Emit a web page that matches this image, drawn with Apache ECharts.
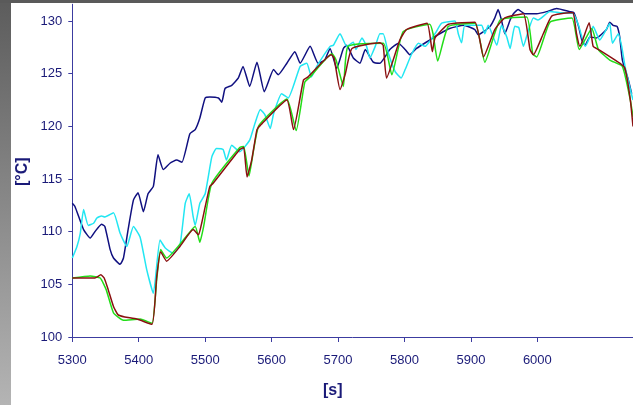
<!DOCTYPE html>
<html>
<head>
<meta charset="utf-8">
<script src="https://cdn.jsdelivr.net/npm/echarts@6/dist/echarts.min.js"></script>
<style>
html, body { margin: 0; padding: 0; background: #ffffff; }
#chart { width: 633px; height: 405px; }
</style>
</head>
<body>
<div id="chart"></div>
<script>
// time axis ticks and temperature ticks
var xTicks = [5300, 5400, 5500, 5600, 5700, 5800, 5900, 6000];
var yTicks = [100, 105, 110, 115, 120, 125, 130];

// navy series
var navyT = [5300, 5304, 5317, 5327, 5334, 5344, 5349, 5357, 5362, 5372, 5377, 5384, 5392, 5399, 5407, 5414, 5422, 5429, 5437, 5447,
	5457, 5465, 5477, 5485, 5492, 5500, 5507, 5520, 5525, 5530, 5540, 5550, 5557, 5567, 5578, 5589, 5603, 5610, 5623, 5635,
	5643, 5658, 5670, 5680, 5688, 5698, 5708, 5713, 5723, 5733, 5741, 5753, 5763, 5778, 5791, 5801, 5808, 5818, 5838, 5853,
	5868, 5889, 5906, 5911, 5919, 5929, 5936, 5941, 5946, 5951, 5959, 5964, 5971, 5981, 5999, 6014, 6029, 6049, 6055, 6062,
	6067, 6072, 6079, 6089, 6104, 6109, 6114, 6120, 6124, 6128, 6137, 6142];
var navyV = [112.7, 112.4, 110.2, 109.4, 110.0, 110.7, 110.5, 108.3, 107.5, 106.9, 107.5, 110.2, 113.0, 113.7, 111.9, 113.6, 114.3, 117.3, 115.9, 116.5,
	116.8, 116.6, 119.3, 119.7, 120.8, 122.7, 122.8, 122.7, 122.3, 123.6, 123.9, 124.6, 125.7, 123.8, 126.1, 123.3, 125.4, 124.9, 126.0, 127.1,
	126.0, 127.6, 126.0, 126.3, 127.4, 125.5, 127.4, 127.7, 126.5, 126.0, 127.3, 126.1, 126.0, 127.3, 127.9, 127.3, 126.8, 127.4, 128.2, 128.8,
	129.3, 129.6, 129.2, 128.7, 129.0, 129.5, 130.3, 131.1, 130.1, 128.8, 130.1, 130.7, 131.1, 130.7, 130.7, 130.9, 131.2, 130.9, 130.8, 129.5,
	128.2, 127.7, 128.5, 128.4, 129.2, 129.9, 129.6, 129.5, 128.5, 126.3, 124.4, 123.1];

// cyan series
var cyanT = [5300, 5307, 5312, 5317, 5324, 5332, 5337, 5344, 5349, 5362, 5372, 5382, 5392, 5402, 5412, 5422, 5432, 5440, 5452, 5462,
	5470, 5476, 5482, 5485, 5492, 5500, 5510, 5517, 5527, 5532, 5540, 5552, 5567, 5575, 5583, 5590, 5598, 5603, 5615, 5625,
	5643, 5653, 5660, 5668, 5688, 5693, 5703, 5713, 5723, 5727, 5736, 5743, 5748, 5756, 5763, 5768, 5776, 5786, 5795, 5801,
	5811, 5821, 5831, 5846, 5856, 5876, 5881, 5886, 5891, 5916, 5921, 5926, 5939, 5946, 5954, 5959, 5966, 5972, 5979, 5986,
	5994, 6001, 6019, 6034, 6054, 6062, 6067, 6072, 6079, 6084, 6094, 6102, 6109, 6113, 6122, 6127, 6132, 6140, 6144];
var cyanV = [107.5, 108.6, 109.85, 112.1, 110.6, 110.8, 111.3, 111.5, 111.4, 111.8, 109.85, 108.6, 110.5, 109.5, 106.4, 104.15, 109.2, 108.45, 107.95, 108.7,
	112.7, 113.6, 111.4, 110.6, 112.7, 113.6, 117.1, 117.9, 117.8, 116.8, 118.2, 117.6, 118.7, 120.3, 121.6, 121.1, 119.8, 121.2, 123.1, 122.7,
	125.7, 126.0, 124.7, 125.7, 127.6, 127.7, 128.8, 127.6, 128.0, 127.3, 128.4, 127.6, 126.5, 127.6, 128.8, 128.8, 126.9, 125.2, 124.6, 125.4,
	126.9, 127.9, 127.6, 128.8, 129.8, 130.0, 128.8, 127.95, 129.6, 129.6, 128.8, 129.6, 127.7, 129.6, 128.5, 127.4, 129.5, 129.4, 127.6, 129.0,
	130.3, 130.1, 130.9, 130.8, 130.7, 129.6, 128.5, 127.6, 128.5, 129.5, 128.2, 129.0, 129.8, 127.9, 128.8, 127.6, 125.7, 123.5, 122.5];

// green series
var greenT = [5300, 5327, 5342, 5351, 5362, 5377, 5402, 5420, 5427, 5433, 5442, 5462, 5485, 5492, 5498, 5510, 5552, 5558, 5566, 5573,
	5581, 5623, 5637, 5650, 5658, 5691, 5697, 5708, 5715, 5768, 5781, 5798, 5838, 5843, 5850, 5866, 5906, 5921, 5944, 5984,
	5993, 5999, 6019, 6052, 6063, 6082, 6092, 6109, 6128, 6140, 6144];
var greenV = [105.6, 105.8, 105.6, 104.5, 102.3, 101.6, 101.7, 101.3, 105.4, 108.3, 107.5, 108.8, 110.5, 109.0, 110.6, 114.6, 118.0, 118.1, 115.3, 117.8,
	120.1, 122.6, 119.6, 124.2, 124.7, 126.9, 126.3, 123.8, 127.6, 127.9, 124.9, 129.0, 129.7, 128.8, 126.2, 129.5, 129.8, 126.1, 130.1, 130.4,
	126.9, 126.6, 129.9, 130.3, 127.3, 129.3, 127.3, 126.3, 125.7, 122.5, 120.9];

// dark red series
var redT = [5300, 5334, 5343, 5348, 5354, 5362, 5369, 5379, 5397, 5420, 5427, 5433, 5442, 5462, 5482, 5490, 5494, 5507, 5512, 5552,
	5558, 5563, 5570, 5578, 5583, 5623, 5633, 5648, 5655, 5690, 5694, 5703, 5711, 5721, 5763, 5768, 5773, 5793, 5803, 5834,
	5842, 5846, 5866, 5906, 5919, 5936, 5951, 5979, 5989, 5994, 6009, 6022, 6049, 6054, 6059, 6064, 6078, 6084, 6092, 6124,
	6132, 6140, 6144];
var redV = [105.6, 105.6, 105.9, 105.6, 104.5, 102.9, 102.1, 101.9, 101.7, 101.2, 105.7, 108.1, 107.2, 108.6, 110.2, 109.7, 110.6, 114.3, 114.6, 117.8,
	118.0, 115.2, 116.8, 119.7, 120.1, 122.5, 119.7, 124.4, 124.7, 126.8, 126.5, 123.5, 125.0, 127.4, 127.95, 127.7, 124.6, 128.2, 129.2, 129.8,
	127.1, 128.4, 129.7, 129.9, 126.6, 129.2, 130.3, 130.7, 127.3, 126.8, 128.8, 130.5, 130.8, 130.8, 128.8, 127.6, 129.85, 127.6, 127.3, 126.0,
	125.5, 122.5, 120.0];

function pairs(t, v) {
	var out = [];
	for (var i = 0; i < t.length; i++) {
		out.push([t[i], v[i]]);
	}
	return out;
}

function line(name, color, t, v) {
	return {
		name: name,
		type: 'line',
		data: pairs(t, v),
		showSymbol: false,
		smooth: 0.15,
		lineStyle: { color: color, width: 1.5 },
		itemStyle: { color: color }
	};
}

var axisColor = '#3c3ca0';
var textColor = '#1a1a78';
var labelFont = '"Liberation Sans", Arial, sans-serif';

var chart = echarts.init(document.getElementById('chart'));
var option = {
	animation: false,
	backgroundColor: '#ffffff',
	grid: { left: 72.3, right: 0, top: 4.25, bottom: 68 },
	graphic: [
		{
			type: 'rect', left: 0, top: 0, z: 10,
			shape: { width: 11, height: 405 },
			style: {
				fill: new echarts.graphic.LinearGradient(0, 0, 0, 1, [
					{ offset: 0, color: '#5c5c5c' },
					{ offset: 1, color: '#b4b4b4' }
				])
			}
		},
		{
			type: 'rect', left: 0, top: 0, z: 11,
			shape: { width: 633, height: 3 },
			style: { fill: '#5a5a5a' }
		},
		{
			type: 'text', left: 323, top: 383, z: 12,
			style: { text: '[s]', fill: textColor, font: 'bold 16px ' + labelFont }
		},
		{
			type: 'text', x: 15, y: 186, rotation: Math.PI / 2, z: 12,
			style: { text: '[°C]', fill: textColor, font: 'bold 16px ' + labelFont }
		}
	],
	xAxis: {
		type: 'value',
		min: 5300,
		max: 6144,
		splitLine: { show: false },
		axisLine: { show: true, lineStyle: { color: axisColor, width: 1 } },
		axisTick: { show: true, length: 5, customValues: xTicks, lineStyle: { color: axisColor } },
		axisLabel: {
			customValues: xTicks, margin: 17, color: textColor,
			fontSize: 13, fontFamily: labelFont,
			formatter: function (v) { return String(v); }
		}
	},
	yAxis: {
		type: 'value',
		min: 100,
		max: 131.6,
		splitLine: { show: false },
		axisLine: { show: true, lineStyle: { color: axisColor, width: 1 } },
		axisTick: { show: true, length: 4, customValues: yTicks, lineStyle: { color: axisColor } },
		axisLabel: {
			customValues: yTicks, margin: 10, color: textColor,
			fontSize: 13, fontFamily: labelFont,
			formatter: function (v) { return String(v); }
		}
	},
	series: [
		line('navy', '#101080', navyT, navyV),
		line('cyan', '#22e6f2', cyanT, cyanV),
		line('green', '#22dd18', greenT, greenV),
		line('red', '#8a1010', redT, redV)
	]
};
chart.setOption(option);
</script>
</body>
</html>
